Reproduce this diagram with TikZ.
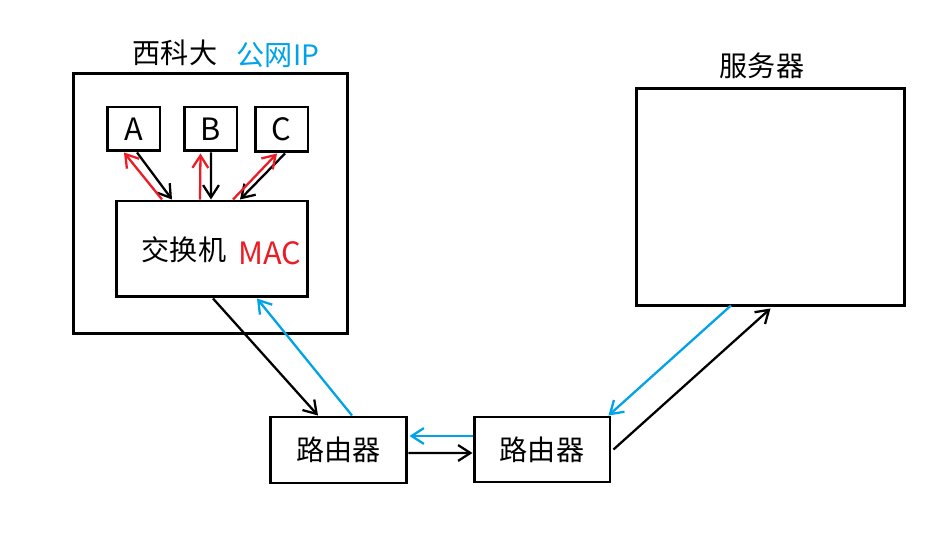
\documentclass[tikz,border=0pt]{standalone}
\usepackage{fontspec}
\setmainfont{Noto Sans CJK SC}
\usetikzlibrary{calc,arrows.meta}
\definecolor{paintblue}{RGB}{0,162,232}
\definecolor{paintred}{RGB}{237,28,36}
\begin{document}
\begin{tikzpicture}[x=0.02cm,y=-0.02cm,
  box/.style={draw,line width=1.7pt,inner sep=0pt},
  lbl/.style={font=\fontsize{16}{19}\selectfont},
  big/.style={font=\fontsize{17.5}{21}\selectfont},
  conn/.style={line width=1.3pt,-{Straight Barb[length=7pt,width=9pt]}},
  blk/.style={conn,black},
  rd/.style={conn,paintred},
  bl/.style={conn,paintblue}]
\useasboundingbox (0,0) rectangle (946,543);
% campus network
\node[box,minimum width=5.5cm,minimum height=5.22cm] (xkd) at (210.5,203.5) {};
\node[lbl] (xkdtitle) at (175,53) {西科大};
\node[lbl,text=paintblue] (pubip) at (278,55) {公网IP};
\node[box,big,minimum width=1.06cm,minimum height=0.88cm] (A) at (133.5,129) {\raisebox{-3pt}{A}};
\node[box,big,minimum width=1.06cm,minimum height=0.88cm] (B) at (210.5,129) {\raisebox{-5pt}{B}};
\node[box,big,minimum width=1.06cm,minimum height=0.9cm] (C) at (281.5,129.5) {\raisebox{-3pt}{C}};
\node[box,minimum width=3.84cm,minimum height=1.92cm] (sw) at (212,249) {};
\node[lbl] (swtxt) at (184,250) {交换机};
\node[big,text=paintred] (mac) at (270,253) {MAC};
% server and routers
\node[box,minimum width=5.38cm,minimum height=4.36cm] (srv) at (770.5,197) {};
\node[lbl] (srvtitle) at (762,66) {服务器};
\node[box,lbl,minimum width=2.74cm,minimum height=1.32cm] (r1) at (338.5,450) {路由器};
\node[box,lbl,minimum width=2.72cm,minimum height=1.3cm] (r2) at (542,449.5) {路由器};
% hosts <-> switch
\draw[blk] ($(A.south)+(3.5,0)$) -- ($(sw.north)+(-40,0)$);
\draw[rd] ($(sw.north)+(-50,0)$) -- ($(A.south)+(-9.5,0)$);
\draw[blk] ($(B.south)+(0.5,0)$) -- ($(sw.north)+(-1,0)$);
\draw[rd] ($(sw.north)+(-12,0)$) -- ($(B.south)+(-10,1)$);
\draw[blk] ($(C.south)+(3.5,0)$) -- ($(sw.north)+(28,0)$);
\draw[rd] ($(sw.north)+(21,0)$) -- ($(C.south)+(-4.5,0)$);
% switch <-> router
\draw[blk] ($(sw.south)+(1,0)$) -- ($(r1.north)+(-20.5,0)$);
\draw[bl] ($(r1.north)+(13.5,0)$) -- ($(sw.south)+(45,0)$);
% router <-> router
\draw[bl] ($(r2.west)+(0,-13.5)$) -- ($(r1.east)+(1,-14)$);
\draw[blk] ($(r1.east)+(0,3)$) -- ($(r2.west)+(0,3.5)$);
% router <-> server
\draw[bl] ($(srv.south)+(-39.5,-2)$) -- ($(r2.north east)+(-3,0)$);
\draw[blk] ($(r2.east)+(2,0)$) -- ($(srv.south)+(0,1)$);
\end{tikzpicture}
\end{document}
